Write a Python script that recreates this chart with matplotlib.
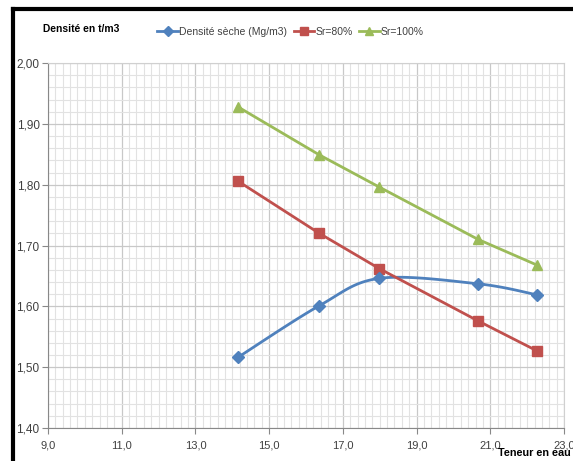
import numpy as np
import matplotlib
matplotlib.use('Agg')
import matplotlib.pyplot as plt
from matplotlib.lines import Line2D
from matplotlib.ticker import MultipleLocator, FuncFormatter

# data
teneur = [14.15, 16.36, 17.99, 20.67, 22.26]
dens_seche = [1.516, 1.601, 1.646, 1.637, 1.619]
sr80 = [1.806, 1.720, 1.662, 1.576, 1.527]
sr100 = [1.928, 1.849, 1.796, 1.710, 1.668]

blue = '#4F81BD'
red = '#C0504D'
green = '#9BBB59'

plt.rcParams['font.family'] = ['Liberation Sans', 'DejaVu Sans']


def smooth(x, y, n=30):
    # catmull-rom style curve, like the "smoothed line" option in Excel
    x = np.asarray(x, float)
    y = np.asarray(y, float)
    px = np.concatenate([[x[0]], x, [x[-1]]])
    py = np.concatenate([[y[0]], y, [y[-1]]])
    xs, ys = [], []
    for i in range(1, len(px) - 2):
        t = np.linspace(0, 1, n)
        for p, out in ((px, xs), (py, ys)):
            p0, p1, p2, p3 = p[i - 1], p[i], p[i + 1], p[i + 2]
            out.extend(0.5 * ((2 * p1) + (-p0 + p2) * t
                              + (2 * p0 - 5 * p1 + 4 * p2 - p3) * t ** 2
                              + (-p0 + 3 * p1 - 3 * p2 + p3) * t ** 3))
    return xs, ys


fig = plt.figure(figsize=(5.73, 4.61), dpi=100)
ax = fig.add_axes([48 / 573, 1 - 428 / 461, (564 - 48) / 573, (428 - 63) / 461])

sx, sy = smooth(teneur, dens_seche)
ax.plot(sx, sy, color=blue, lw=2, zorder=3)
ax.plot(teneur, dens_seche, ls='none', marker='D', ms=6.5, color=blue, zorder=4)
ax.plot(teneur, sr80, color=red, lw=2, marker='s', ms=7, zorder=3)
ax.plot(teneur, sr100, color=green, lw=2, marker='^', ms=7.5, zorder=3)

ax.set_xlim(9, 23)
ax.set_ylim(1.4, 2.0)
ax.xaxis.set_major_locator(MultipleLocator(2, offset=1))
ax.xaxis.set_minor_locator(MultipleLocator(0.2))
ax.yaxis.set_major_locator(MultipleLocator(0.1))
ax.yaxis.set_minor_locator(MultipleLocator(0.02))
ax.xaxis.set_major_formatter(FuncFormatter(lambda v, p: ('%.1f' % v).replace('.', ',')))
ax.yaxis.set_major_formatter(FuncFormatter(lambda v, p: ('%.2f' % v).replace('.', ',')))
ax.grid(which='major', color='#c8c8c8', lw=0.9)
ax.grid(which='minor', color='#e2e2e2', lw=0.8)
ax.set_axisbelow(True)
for s in ax.spines.values():
    s.set_color('#d0d0d0')
ax.spines['left'].set_color('#888888')
ax.spines['bottom'].set_color('#888888')
ax.tick_params(which='major', length=4, color='#888888', labelsize=8.5,
               labelcolor='#404040', pad=2)
ax.tick_params(which='minor', length=0)
ax.tick_params(axis='x', pad=5, labelsize=8)

fig.text(43 / 573, 1 - 29 / 461, 'Densité en t/m3', fontsize=7.4, fontweight='bold',
         va='center', ha='left')
fig.text(498 / 573, 1 - 453 / 461, 'Teneur en eau %', fontsize=7.8, fontweight='bold',
         va='center', ha='left')

handles = [Line2D([], [], color=blue, lw=2, marker='D', ms=5.5),
           Line2D([], [], color=red, lw=2, marker='s', ms=5.5),
           Line2D([], [], color=green, lw=2, marker='^', ms=6)]
labels = ['Densité sèche (Mg/m3)', 'Sr=80%', 'Sr=100%']
fig.legend(handles, labels, loc='center left', bbox_to_anchor=(148 / 573, 1 - 32 / 461),
           ncol=3, frameon=False, fontsize=7.5, handlelength=2.0, handletextpad=0.1,
           columnspacing=0.6, labelcolor='#404040')

# black frame on the left and top of the chart
fig.add_artist(Line2D([13 / 573, 13 / 573], [0, 1 - 9 / 461], color='black', lw=3,
                      transform=fig.transFigure, solid_capstyle='projecting'))
fig.add_artist(Line2D([13 / 573, 1], [1 - 9 / 461, 1 - 9 / 461], color='black', lw=3,
                      transform=fig.transFigure, solid_capstyle='projecting'))

fig.savefig('out.png', dpi=100)
